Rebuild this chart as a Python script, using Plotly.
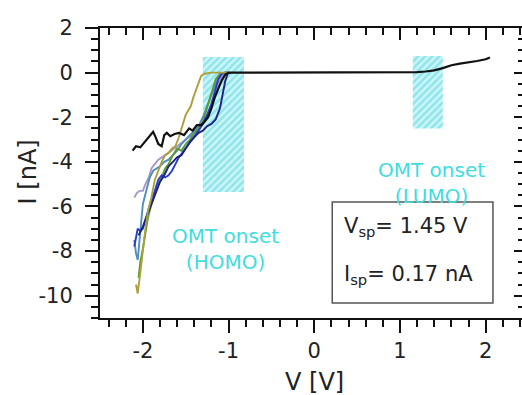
import plotly.graph_objects as go

# ---------------- data ----------------
x_tickvals = [-2, -1, 0, 1, 2]
x_ticktext = ["-2", "-1", "0", "1", "2"]
y_tickvals = [2, 0, -2, -4, -6, -8, -10]
y_ticktext = ["2", "0", "-2", "-4", "-6", "-8", "-10"]

v_black = [-2.12, -2.08, -2.03, -1.98, -1.93, -1.88, -1.85, -1.82, -1.78, -1.75, -1.72, -1.68,
           -1.63, -1.58, -1.52, -1.46, -1.42, -1.37, -1.32, -1.28, -1.24, -1.2, -1.16, -1.12,
           -1.08, -1.04, -1.0, -0.8, -0.5, -0.2, 0.1, 0.4, 0.7, 1.0, 1.2, 1.3, 1.4, 1.5, 1.6,
           1.7, 1.8, 1.9, 2.0, 2.05]
i_black = [-3.5, -3.3, -3.35, -3.1, -2.9, -2.65, -2.9, -3.2, -3.3, -2.8, -2.7, -2.85,
           -2.75, -2.7, -2.8, -2.5, -2.6, -2.35, -2.35, -2.2, -2.0, -1.6, -1.1, -0.7,
           -0.35, -0.1, 0.0, 0.0, 0.0, 0.0, 0.0, 0.0, 0.0, 0.0, 0.02, 0.05, 0.1, 0.2, 0.33,
           0.4, 0.45, 0.52, 0.6, 0.68]

v_olive = [-2.08, -2.06, -2.04, -2.02, -2.0, -1.97, -1.94, -1.9, -1.86, -1.82, -1.78, -1.74,
           -1.7, -1.66, -1.62, -1.58, -1.55, -1.52, -1.5, -1.47, -1.44, -1.41, -1.38, -1.35,
           -1.32, -1.28, -1.2, -1.1, -1.0]
i_olive = [-9.5, -9.9, -9.3, -8.6, -7.8, -7.0, -6.2, -5.6, -4.8, -4.4, -4.0, -3.7,
           -3.6, -3.4, -3.3, -2.9, -2.5, -2.2, -1.9, -1.7, -1.5, -1.1, -0.75, -0.5,
           -0.15, -0.05, 0.0, 0.0, 0.0]

v_green = [-2.05, -2.03, -2.0, -1.97, -1.94, -1.9, -1.86, -1.82, -1.78, -1.74, -1.7, -1.65,
           -1.6, -1.55, -1.5, -1.45, -1.4, -1.35, -1.3, -1.25, -1.2, -1.15, -1.1, -1.05, -1.0]
i_green = [-9.2, -8.5, -7.9, -7.2, -6.5, -5.9, -5.4, -5.0, -4.7, -4.3, -4.1, -3.7,
           -3.4, -3.5, -3.2, -3.0, -2.7, -2.5, -2.2, -1.6, -0.9, -0.3, -0.05, 0.0, 0.0]

v_blue = [-2.1, -2.08, -2.06, -2.03, -2.0, -1.97, -1.94, -1.9, -1.86, -1.82, -1.78, -1.74,
          -1.7, -1.66, -1.62, -1.58, -1.54, -1.5, -1.45, -1.4, -1.35, -1.3, -1.25, -1.2,
          -1.16, -1.12, -1.08, -1.04, -1.0]
i_blue = [-7.8, -7.4, -7.0, -7.1, -7.0, -6.6, -6.2, -5.7, -5.3, -4.8, -4.6, -4.7,
          -4.6, -4.4, -4.1, -3.8, -3.6, -3.4, -3.1, -2.9, -2.6, -2.3, -1.9, -1.4,
          -0.8, -0.3, -0.05, 0.0, 0.0]

v_navy = [-2.05, -2.0, -1.95, -1.9, -1.85, -1.8, -1.75, -1.7, -1.65, -1.6, -1.55, -1.5,
          -1.45, -1.4, -1.35, -1.3, -1.25, -1.2, -1.15, -1.1, -1.07, -1.04, -1.01, -0.98]
i_navy = [-7.3, -6.9, -6.4, -5.9, -5.4, -4.9, -4.6, -4.2, -4.0, -3.8, -3.7, -3.4,
          -3.1, -2.9, -2.7, -2.6, -2.4, -2.3, -2.1, -1.6, -1.0, -0.4, -0.05, 0.0]

v_steel = [-2.1, -2.08, -2.06, -2.04, -2.02, -2.0, -1.96, -1.92, -1.88, -1.84, -1.8, -1.75,
           -1.7, -1.65, -1.6, -1.55, -1.5, -1.45, -1.4, -1.35, -1.3, -1.25, -1.2, -1.15,
           -1.1, -1.05, -1.0]
i_steel = [-7.5, -8.1, -8.4, -7.5, -6.5, -5.9, -5.3, -4.7, -4.4, -4.3, -4.2, -4.0,
           -3.9, -3.7, -3.5, -3.2, -3.0, -2.8, -2.6, -2.4, -2.0, -1.5, -1.0, -0.5,
           -0.1, 0.0, 0.0]

v_lav = [-2.1, -2.07, -2.04, -2.0, -1.97, -1.93, -1.9, -1.86, -1.82, -1.78, -1.74, -1.7,
         -1.6, -1.5, -1.4, -1.3, -1.2, -1.15, -1.1, -1.05, -1.0]
i_lav = [-5.6, -5.4, -5.3, -5.3, -5.0, -4.7, -4.3, -4.1, -3.9, -3.8, -3.7, -3.6,
         -3.3, -3.0, -2.7, -2.3, -1.5, -0.9, -0.3, -0.05, 0.0]

homo_v = [-1.3, -0.82]
homo_i = [-5.35, 0.7]
lumo_v = [1.15, 1.5]
lumo_i = [-2.5, 0.75]

curves = [
    ("lavender", v_lav, i_lav, "#a898c8"),
    ("steel", v_steel, i_steel, "#4f90bb"),
    ("green", v_green, i_green, "#5b9b2e"),
    ("blue", v_blue, i_blue, "#2a3bd0"),
    ("navy", v_navy, i_navy, "#1c2380"),
    ("olive", v_olive, i_olive, "#ad9f3e"),
    ("black", v_black, i_black, "#111111"),
]

HATCH = "#4fd6e0"
FONT = "DejaVu Sans"

fig = go.Figure()

for vr, ir in [(homo_v, homo_i), (lumo_v, lumo_i)]:
    fig.add_trace(go.Scatter(
        x=[vr[0], vr[1], vr[1], vr[0], vr[0]],
        y=[ir[0], ir[0], ir[1], ir[1], ir[0]],
        fill="toself", mode="lines", line=dict(width=0, color="rgba(0,0,0,0)"),
        fillcolor="rgba(0,0,0,0)",
        fillpattern=dict(shape="/", fgcolor=HATCH, bgcolor="#cdf5f7",
                         size=5, solidity=0.5),
        hoverinfo="skip", showlegend=False))

for name, v, i, c in curves:
    fig.add_trace(go.Scatter(x=v, y=i, mode="lines", name=name,
                             line=dict(color=c, width=2.2 if name == "black" else 1.9),
                             showlegend=False))

# dummy trace for top / right mirrored axes
fig.add_trace(go.Scatter(x=[None], y=[None], xaxis="x2", yaxis="y2",
                         showlegend=False, hoverinfo="skip"))

xr = [-2.5, 2.424]
yr = [-11, 2]
tickfont = dict(family=FONT, size=21, color="#222222")

fig.update_layout(
    width=522, height=395,
    margin=dict(l=100, r=0, t=28, b=77),
    paper_bgcolor="white", plot_bgcolor="white",
    xaxis=dict(range=xr, tickvals=x_tickvals, ticktext=x_ticktext,
               ticks="outside", ticklen=13, tickwidth=2, tickcolor="#111",
               showline=True, linewidth=2, linecolor="#111", showgrid=False,
               zeroline=False, tickfont=tickfont,
               minor=dict(dtick=0.2, tick0=0, ticks="outside", ticklen=7,
                          tickwidth=2, tickcolor="#111", showgrid=False)),
    yaxis=dict(range=yr, tickvals=y_tickvals, ticktext=y_ticktext,
               ticks="outside", ticklen=13, tickwidth=2, tickcolor="#111",
               showline=True, linewidth=2, linecolor="#111", showgrid=False,
               zeroline=False, tickfont=tickfont, ticklabelstandoff=8,
               minor=dict(dtick=0.5, tick0=0, ticks="outside", ticklen=7,
                          tickwidth=2, tickcolor="#111", showgrid=False)),
    xaxis2=dict(range=xr, overlaying="x", side="top", anchor="y2",
                tickvals=x_tickvals, ticks="inside", ticklen=12, tickwidth=2,
                tickcolor="#111", showticklabels=False, showline=True,
                linewidth=2, linecolor="#111", showgrid=False, zeroline=False,
                minor=dict(dtick=0.2, tick0=0, ticks="inside", ticklen=7,
                           tickwidth=2, tickcolor="#111", showgrid=False)),
    yaxis2=dict(range=yr, overlaying="y", side="right", anchor="x2",
                tickvals=y_tickvals, ticks="inside", ticklen=8, tickwidth=2,
                tickcolor="#111", showticklabels=False, showline=False,
                showgrid=False, zeroline=False,
                minor=dict(dtick=0.5, tick0=0, ticks="inside", ticklen=4,
                           tickwidth=2, tickcolor="#111", showgrid=False)),
)

# box
fig.add_shape(type="rect", xref="x", yref="y", x0=0.21, x1=2.085, y0=-10.33, y1=-5.8,
              line=dict(color="#555555", width=1.5), fillcolor="rgba(0,0,0,0)")

ann_font = dict(family=FONT, size=21, color="#222222")
fig.add_annotation(x=0.323, y=-6.92, xref="x", yref="y", xanchor="left", yanchor="middle",
                   text="V<sub>sp</sub>= 1.45 V", showarrow=False, font=ann_font)
fig.add_annotation(x=0.323, y=-9.08, xref="x", yref="y", xanchor="left", yanchor="middle",
                   text="I<sub>sp</sub>= 0.17 nA", showarrow=False, font=ann_font)

cfont = dict(family=FONT, size=20, color="#3fdde2")
fig.add_annotation(x=-1.03, y=-7.9, xref="x", yref="y", text="OMT onset<br>(HOMO)",
                   xanchor="center", yanchor="middle",
                   showarrow=False, font=cfont, align="center")
fig.add_annotation(x=1.373, y=-4.95, xref="x", yref="y", text="OMT onset<br>(LUMO)",
                   xanchor="center", yanchor="middle",
                   showarrow=False, font=cfont, align="center")

tfont = dict(family=FONT, size=24, color="#222222")
fig.add_annotation(x=0.509, y=-0.22, xref="paper", yref="paper", text="V [V]",
                   xanchor="center", yanchor="middle", showarrow=False, font=tfont)
fig.add_annotation(x=-0.17, y=0.503, xref="paper", yref="paper", text="I [nA]",
                   xanchor="center", yanchor="middle",
                   showarrow=False, font=tfont, textangle=-90)

fig.write_html("out.html")
